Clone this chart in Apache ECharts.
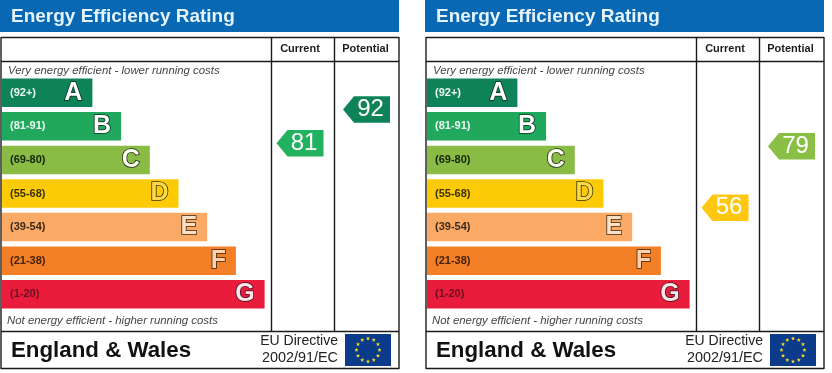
<!DOCTYPE html>
<html><head><meta charset="utf-8">
<style>html,body{margin:0;padding:0;background:#fff}#c{width:832px;height:373px}</style>
<script src="https://cdn.jsdelivr.net/npm/echarts@6/dist/echarts.min.js"></script>
</head><body><div id="c"></div>
<script>
const bandLetters = ['A','B','C','D','E','F','G'];
const bandRanges = ['(92+)','(81-91)','(69-80)','(55-68)','(39-54)','(21-38)','(1-20)'];
const bandTopScores = [100,91,80,68,54,38,20];
const bandLowScores = [92,81,69,55,39,21,1];
const bandLengths = [3.15,4.15,5.15,6.15,7.15,8.15,9.15];
const bandColors = ['#0f8358','#20a85c','#8abb45','#fdcb05','#fbaa65','#f37f27','#ea1c3c'];
const rangeColors = ['#eef7f2','#eef7f2','#16240c','#3a3208','#3c2a18','#47230a','#6e0f20'];
const letterFills = ['#ffffff','#ffffff','#fbfdf0','#fdd94a','#fde0c4','#fdd2aa','#fbe4e8'];
const letterEdges = ['#0c2c20','#0c2c20','#1c2610','#3a3210','#3a2a1a','#3a2510','#3a0f1a'];
const currentScores = [81,56];
const potentialScores = [92,79];
const panelOffsets = [0,425];
const arrowFill = s => {
  const i = bandLowScores.findIndex(l => s >= l);
  return ['#0f8358','#22b15f','#8abf45','#ffc70f','#fbaa65','#f37f27','#ea1c3c'][i];
};
// Position of a score on the rows of the scale: each band spans one row, its top score
// sitting on the upper edge of the row and its lowest score on the lower edge.
function scoreRow(s){
  const i = bandLowScores.findIndex(l => s >= l);
  return i - 0.5 + (bandTopScores[i] - s) / (bandTopScores[i] - bandLowScores[i]);
}
const FONT = '"Liberation Sans", Arial, sans-serif';
const grid=[], xAxis=[], yAxis=[], series=[], graphic=[];
function addGrid(left,width,top,height,yOpt,xOpt){
  grid.push({left,width,top,height,containLabel:false});
  const i=grid.length-1;
  xAxis.push(Object.assign({type:'value',gridIndex:i,show:false,min:0,splitLine:{show:false}},xOpt));
  yAxis.push(Object.assign({gridIndex:i,show:false,inverse:true,splitLine:{show:false}},yOpt));
  return i;
}
function arrowSeries(g,score){
  series.push({type:'custom',xAxisIndex:g,yAxisIndex:g,silent:true,z:5,
    data:[[0.5,scoreRow(score),score]],
    renderItem(params,api){
      const c=api.coord([api.value(0),api.value(1)]);
      const w=47,h=26.5,t=11,l=c[0]-w/2,r=c[0]+w/2;
      return {type:'group',children:[
        {type:'polygon',shape:{points:[[l,c[1]],[l+t,c[1]-h/2],[r,c[1]-h/2],[r,c[1]+h/2],[l+t,c[1]+h/2]]},style:{fill:arrowFill(score)}},
        {type:'text',style:{x:c[0]+4,y:c[1],text:String(score),fill:'#ffffff',font:'24px '+FONT,textAlign:'center',textVerticalAlign:'middle'}}
      ]};
    },
    encode:{x:0,y:1}
  });
}
function rect(x,y,w,h,fill){graphic.push({type:'rect',shape:{x,y,width:w,height:h},style:{fill},silent:true,z:1});}
function line(x1,y1,x2,y2,w){graphic.push({type:'line',shape:{x1,y1,x2,y2},style:{stroke:'#1a1a1a',lineWidth:w||1.4},silent:true,z:10});}
function txt(x,y,text,font,fill,align,extra){graphic.push({type:'text',x,y,silent:true,z:11,style:Object.assign({text,font:font+' '+FONT,fill,textAlign:align||'left',textVerticalAlign:'middle'},extra||{})});}
function star(cx,cy,r){
  const pts=[];
  for(let i=0;i<10;i++){const a=-Math.PI/2+i*Math.PI/5,q=i%2?r*0.42:r;pts.push([cx+q*Math.cos(a),cy+q*Math.sin(a)]);}
  graphic.push({type:'polygon',shape:{points:pts},style:{fill:'#f5dc1e'},silent:true,z:12});
}
panelOffsets.forEach((o,p)=>{
  // bars
  const g=addGrid(o+2,270,76,235,{type:'category',data:bandLetters},{max:270/28.7});
  series.push({type:'bar',xAxisIndex:g,yAxisIndex:g,barWidth:28.5,silent:true,z:3,
    data:bandLengths.map((v,i)=>({value:v,itemStyle:{color:bandColors[i]},
      label:{show:true,position:'insideLeft',distance:8,formatter:bandRanges[i],color:rangeColors[i],fontFamily:FONT,fontWeight:'bold',fontSize:11}}))});
  series.push({type:'bar',xAxisIndex:g,yAxisIndex:g,barWidth:28.5,barGap:'-100%',silent:true,z:4,
    data:bandLengths.map((v,i)=>({value:v,itemStyle:{color:'rgba(0,0,0,0)'},
      label:{show:true,position:'insideRight',distance:10,formatter:bandLetters[i],color:letterFills[i],textBorderColor:letterEdges[i],textBorderWidth:1.6,fontFamily:FONT,fontWeight:'bold',fontSize:25}}))});
  // arrows
  const rowAxis={type:'value',min:-0.5,max:6.5};
  const gc=addGrid(o+271,58,76,235,rowAxis,{max:1});
  arrowSeries(gc,currentScores[p]);
  const gp=addGrid(o+334,65,76,235,rowAxis,{max:1});
  arrowSeries(gp,potentialScores[p]);
  // frame and text
  rect(o,0,399,32,'#0868b4');
  txt(o+11,17,'Energy Efficiency Rating','bold 19px','#e6f3fa');
  line(o+1,37.5,o+399,37.5); line(o+1,61.5,o+399,61.5); line(o+1,331.5,o+399,331.5); line(o+1,368.5,o+399,368.5);
  line(o+1,37,o+1,369); line(o+399,37,o+399,369);
  line(o+271.5,37,o+271.5,332); line(o+334.5,37,o+334.5,332);
  txt(o+300,49,'Current','bold 11px','#1c1c1c','center');
  txt(o+365.5,49,'Potential','bold 11px','#1c1c1c','center');
  txt(o+8,71,'Very energy efficient - lower running costs','italic 11.4px','#444444');
  txt(o+7,320.5,'Not energy efficient - higher running costs','italic 11.4px','#444444');
  txt(o+11,350.5,'England & Wales','bold 22.3px','#111111');
  txt(o+338,341,'EU Directive','14px','#222222','right');
  txt(o+338,358,'2002/91/EC','14.4px','#222222','right');
  rect(o+345,334,46,32,'#0d3b8c');
  for(let i=0;i<12;i++){const a=i*Math.PI/6;star(o+368+11.5*Math.cos(a),350+11.5*Math.sin(a),2.2);}
});
const chart=echarts.init(document.getElementById('c'),null,{renderer:'canvas'});
chart.setOption({animation:false,backgroundColor:'#ffffff',textStyle:{fontFamily:FONT},grid,xAxis,yAxis,series,graphic});
</script></body></html>
